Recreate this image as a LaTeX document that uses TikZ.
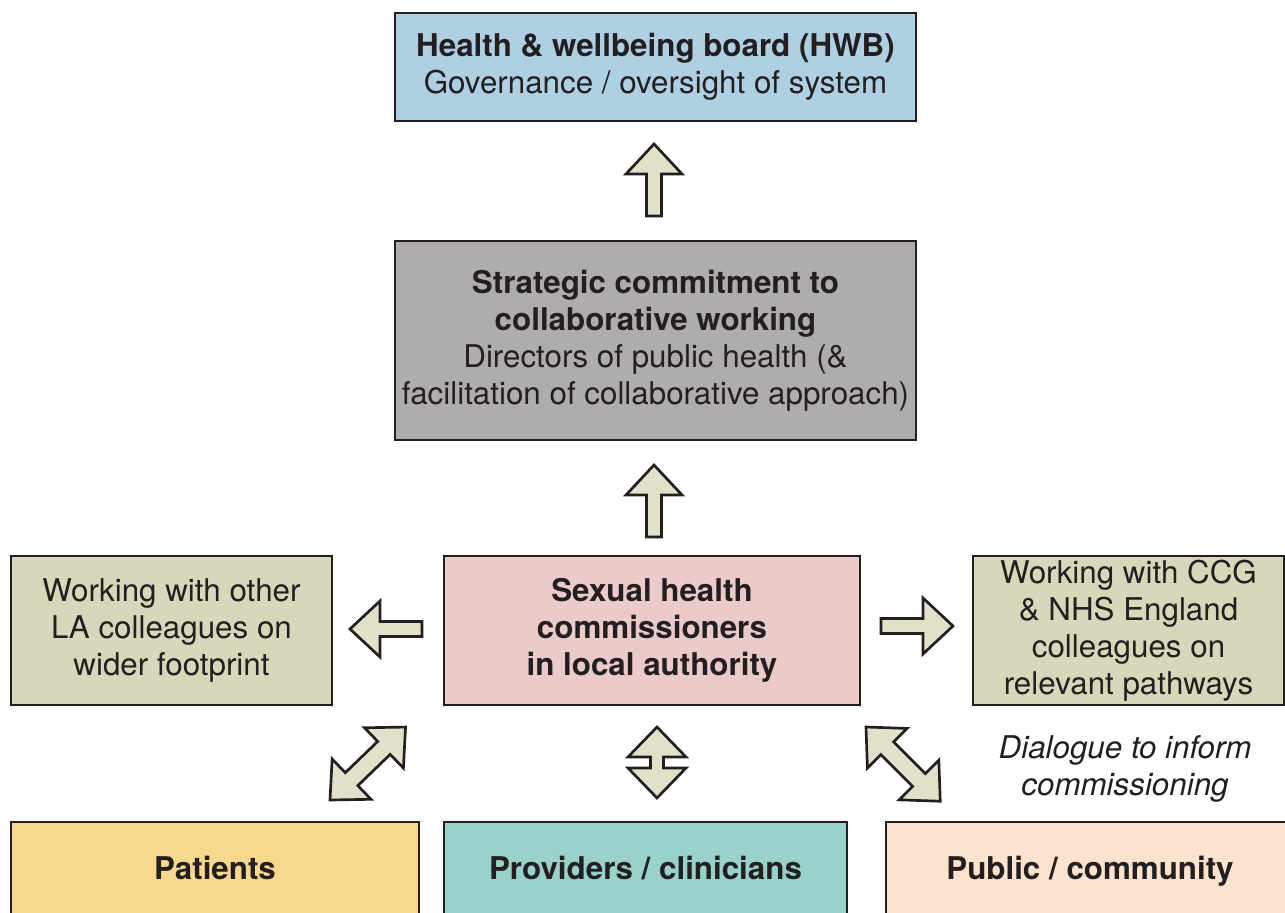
\documentclass[tikz,border=0pt]{standalone}
\usepackage{fontspec}
\setmainfont{TeX Gyre Heros}
\definecolor{ink}{HTML}{231F20}
\definecolor{hwbblue}{HTML}{AFCFE3}
\definecolor{stratgray}{HTML}{AEACAD}
\definecolor{tan}{HTML}{D9D7B9}
\definecolor{pinkc}{HTML}{EACBCA}
\definecolor{yellowc}{HTML}{F8D88C}
\definecolor{tealc}{HTML}{98D2CA}
\definecolor{peachc}{HTML}{FCE3CD}
\definecolor{arrowfill}{HTML}{E2E0C8}
\tikzset{
  box/.style={draw=ink, line width=1.8pt, inner sep=0pt, align=center, text=ink,
    font={\fontsize{23.5}{27.75}\selectfont}},
  bottombox/.style={box, minimum height=73.5pt, text height=17pt, text depth=5pt},
  barrow/.style={draw=ink, fill=arrowfill, line width=2pt, line join=miter},
  sarrow/.pic={\draw[barrow] (0,-7.5) -- (42,-7.5) -- (42,-28) -- (72,0) -- (42,28) -- (42,7.5) -- (0,7.5) -- cycle;},
  dvarrow/.pic={\draw[barrow] (0,0) -- (30,-29) -- (30,-6.5) -- (41,-6.5) -- (41,-29) -- (71,0) -- (41,29) -- (41,6.5) -- (30,6.5) -- (30,29) -- cycle;},
  ddarrow/.pic={\draw[barrow] (0,0) -- (30,-28) -- (30,-9) -- (75,-9) -- (75,-28) -- (105,0) -- (75,28) -- (75,9) -- (30,9) -- (30,28) -- cycle;}
}
\begin{document}
\begin{tikzpicture}[x=0.75pt,y=-0.75pt]
\useasboundingbox (0,0) rectangle (1285,913);
\clip (0,0) rectangle (1285,913);
\fill[white] (0,0) rectangle (1285,913);

\node[box, fill=hwbblue, minimum width=390.75pt, minimum height=81pt] (hwb) at (655.5,67)
  {\textbf{Health \& wellbeing board (HWB)}\\Governance / oversight of system};
\node[box, fill=stratgray, minimum width=390.75pt, minimum height=149.25pt] (strat) at (655.5,340.5)
  {\textbf{Strategic commitment to}\\\textbf{collaborative working}\\Directors of public health (\&\\facilitation of collaborative approach)};
\node[box, fill=tan, minimum width=240.75pt, minimum height=111.75pt] (la) at (171.5,630.5)
  {Working with other\\LA colleagues on\\wider footprint};
\node[box, fill=pinkc, minimum width=312pt, minimum height=111.75pt] (shc) at (652,630.5)
  {\textbf{Sexual health}\\\textbf{commissioners}\\\textbf{in local authority}};
\node[box, fill=tan, minimum width=233.25pt, minimum height=111.75pt] (ccg) at (1128.5,630.5)
  {Working with CCG\\\& NHS England\\colleagues on\\relevant pathways};
\node[bottombox, fill=yellowc, minimum width=306pt] (pat) at (215,871)
  {\textbf{Patients}};
\node[bottombox, fill=tealc, minimum width=302.25pt] (prov) at (645.5,871)
  {\textbf{Providers / clinicians}};
\node[bottombox, fill=peachc, minimum width=306pt] (pub) at (1090,871)
  {\textbf{Public / community}};
\node[align=center, text=ink, font={\fontsize{23.5}{27.75}\selectfont\itshape}] (dia) at (1125,769)
  {Dialogue to inform\\commissioning};

\path (654,216) pic[rotate=90] {sarrow};
\path (654,537) pic[rotate=90] {sarrow};
\path (422,629) pic[rotate=180] {sarrow};
\path (881,626) pic {sarrow};
\path (657,798) pic[rotate=90] {dvarrow};
\path (330,800) pic[rotate=44] {ddarrow};
\path (866,727) pic[rotate=-45] {ddarrow};
\end{tikzpicture}
\end{document}
